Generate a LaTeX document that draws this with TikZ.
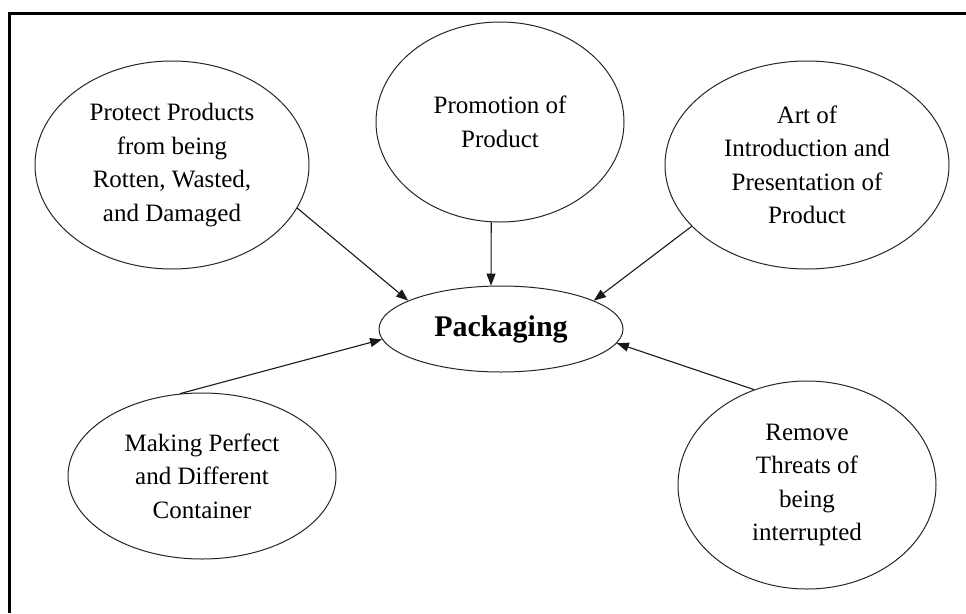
\documentclass[tikz,border=0pt]{standalone}
\usepackage{fontspec}
\setmainfont{Liberation Serif}
\usetikzlibrary{shapes.geometric,arrows.meta}
\newcommand\bubblefont{\fontsize{25}{33.5}\selectfont}
\newcommand\packfont{\fontsize{30}{33}\selectfont\bfseries}
\tikzset{
  bubble/.style={draw=black!85, ellipse, line width=1pt, inner sep=0pt, align=center, font=\bubblefont},
  feed/.style={draw=black!90, line width=1.1pt, -{Triangle[length=12pt,width=9pt]}}
}
\begin{document}
\begin{tikzpicture}[x=1pt,y=-1pt]
\useasboundingbox (0,0) rectangle (966,613);
\fill[white] (0,0) rectangle (966,613);
\draw[line width=3pt] (9.5,613) -- (9.5,13) -- (966,13);

\node[bubble, minimum width=274pt, minimum height=208pt] (protect) at (172,165)
  {Protect Products\\from being\\Rotten, Wasted,\\and Damaged};
\node[bubble, minimum width=248pt, minimum height=200pt] (promo) at (500,122)
  {Promotion of\\Product};
\node[bubble, minimum width=284pt, minimum height=208pt] (art) at (807,165)
  {Art of\\Introduction and\\Presentation of\\Product};
\node[bubble, minimum width=244pt, minimum height=86pt, font=\packfont] (pack) at (501,329)
  {Packaging};
\node[bubble, minimum width=268pt, minimum height=166pt] (making) at (202,476)
  {Making Perfect\\and Different\\Container};
\node[bubble, minimum width=258pt, minimum height=208pt] (remove) at (807,485)
  {Remove\\Threats of\\being\\interrupted};

\draw[feed] (protect.-19) -- (pack.163);
\draw[feed] (promo.-95) -- (pack.103);
\draw[feed] (art.-152.6) -- (pack.17.3);
\draw[feed] (making.105.9) -- (pack.185.7);
\draw[feed] (remove.119.5) -- (pack.-7.2);
\end{tikzpicture}
\end{document}
